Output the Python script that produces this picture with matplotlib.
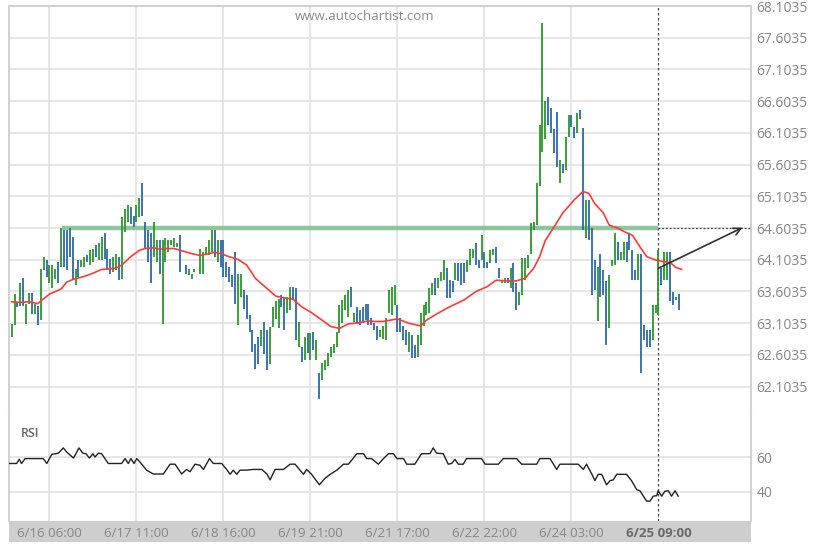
import matplotlib

matplotlib.use("Agg")

import matplotlib.pyplot as plt
import numpy as np
from matplotlib.patches import Rectangle

plt.rcParams["font.family"] = ["Open Sans", "DejaVu Sans"]

# hourly bars, index 0 = first bar on the left
BAR_DIR = (
    "uududuudud" "uuduuududd" "dduduuduud" "uuddduuduu" "udduuddddu"
    "uduuuuuud-" "duuu-uuuuu" "dudddddduu" "dddddduddu" "uuudduuddu"
    "dudududuuu" "uuuuuuudud" "ddddddduuu" "uuuddddudd" "uuuuuuduuu"
    "ddduddduuu" "ddudduuddu" "ududduuuuu" "uuuuuddddu" "duudduddud"
    "dduddduuud" "uudddduddd" "duuuduuddu" "d"
)
BAR_HIGH = [
    63.09, 63.57, 63.44, 63.73, 63.81, 63.41, 63.58, 63.58, 63.41, 63.38,
    63.96, 64.15, 64.10, 64.02, 64.02, 63.96, 64.07, 64.60, 64.57, 64.57,
    64.60, 64.46, 63.96, 64.10, 64.10, 64.15, 64.17, 64.25, 64.28, 64.33,
    64.36, 64.46, 64.52, 64.28, 64.12, 64.15, 64.20, 64.15, 64.78, 64.91,
    64.96, 64.94, 64.80, 64.96, 65.07, 65.32, 64.70, 64.57, 64.52, 64.70,
    64.41, 64.41, 64.41, 64.44, 64.41, 64.41, 64.44, 64.36, 64.49, None,
    64.02, 63.96, 63.88, 63.96, None, 64.28, 64.23, 64.31, 64.41, 64.57,
    64.57, 64.41, 64.42, 64.41, 64.07, 63.99, 63.86, 64.23, 63.88, 63.88,
    63.62, 63.54, 63.23, 62.99, 62.78, 62.88, 62.99, 63.12, 62.99, 63.04,
    63.36, 63.46, 63.48, 63.55, 63.52, 63.52, 63.68, 63.68, 63.65, 63.12,
    62.73, 62.89, 62.94, 62.94, 62.97, 62.84, 62.31, 62.47, 62.52, 62.63,
    62.73, 62.78, 62.97, 63.39, 63.47, 63.55, 63.62, 63.68, 63.26, 63.35,
    63.31, 63.36, 63.41, 63.41, 63.18, 63.10, 63.05, 62.99, 63.05, 63.18,
    63.63, 63.68, 63.70, 63.39, 63.18, 63.05, 62.99, 62.97, 62.92, 62.76,
    62.92, 63.26, 63.39, 63.44, 63.65, 63.73, 63.81, 63.81, 63.91, 64.10,
    63.97, 63.78, 63.76, 64.05, 64.05, 64.05, 64.05, 64.10, 64.28, 64.28,
    64.36, 64.10, 64.49, 64.23, 64.07, 64.26, 64.28, 64.31, 63.97, 63.78,
    63.81, 63.81, 63.97, 64.05, 63.73, 63.60, 64.13, 64.13, 64.18, 64.68,
    64.70, 65.31, 66.23, 67.83, 66.60, 66.67, 66.49, 66.17, 66.44, 65.68,
    65.62, 66.04, 66.38, 66.38, 66.20, 66.41, 66.46, 66.18, 65.04, 65.04,
    64.60, 64.10, 63.99, 64.20, 63.94, 63.76, 63.86, 64.10, 64.52, 64.39,
    64.23, 64.38, 64.39, 64.52, 64.26, 63.94, 64.20, 64.20, 63.07, 62.99,
    62.99, 63.39, 63.39, 64.25, 63.97, 64.23, 64.23, 64.23, 63.60, 63.52,
    63.57,
]
BAR_LOW = [
    62.88, 63.07, 63.36, 63.38, 63.38, 63.09, 63.41, 63.25, 63.25, 63.07,
    63.15, 63.94, 63.83, 63.73, 63.65, 63.80, 63.73, 63.99, 63.99, 63.94,
    64.15, 63.78, 63.70, 63.83, 63.99, 63.99, 64.07, 64.02, 64.07, 64.15,
    64.10, 64.10, 64.12, 63.94, 63.88, 63.91, 63.94, 63.78, 63.80, 64.54,
    64.70, 64.67, 64.62, 64.70, 64.78, 64.80, 64.28, 64.07, 63.73, 64.15,
    64.07, 63.88, 63.09, 64.07, 64.23, 64.33, 64.30, 64.30, 63.91, None,
    63.88, 63.86, 63.80, 63.91, None, 63.88, 63.88, 64.17, 64.17, 64.23,
    64.15, 64.07, 63.99, 63.83, 63.83, 63.75, 63.67, 63.41, 63.07, 63.52,
    63.33, 63.17, 62.96, 62.65, 62.38, 62.46, 62.75, 62.62, 62.36, 62.46,
    63.04, 63.17, 63.02, 63.36, 62.99, 63.26, 63.31, 63.47, 62.84, 62.73,
    62.49, 62.52, 62.63, 62.52, 62.68, 62.52, 61.91, 62.21, 62.36, 62.42,
    62.57, 62.63, 62.73, 62.94, 63.10, 63.31, 63.20, 63.36, 63.12, 63.10,
    63.07, 63.10, 63.15, 63.07, 63.07, 63.00, 62.84, 62.89, 62.86, 62.84,
    63.26, 63.23, 63.39, 62.97, 62.97, 62.84, 62.76, 62.65, 62.55, 62.55,
    62.57, 62.76, 63.05, 63.23, 63.26, 63.55, 63.55, 63.65, 63.76, 63.78,
    63.50, 63.50, 63.60, 63.78, 63.76, 63.70, 63.73, 63.91, 64.02, 64.13,
    64.02, 63.97, 64.10, 63.97, 63.97, 64.05, 64.18, 64.05, 63.81, 63.73,
    63.73, 63.73, 63.65, 63.60, 63.31, 63.39, 63.55, 63.78, 63.97, 64.20,
    64.57, 64.65, 65.26, 65.81, 66.00, 66.23, 66.10, 65.78, 65.57, 65.31,
    65.47, 65.52, 66.04, 66.20, 66.02, 66.10, 66.33, 64.57, 64.44, 64.41,
    63.55, 63.62, 63.13, 63.52, 63.55, 62.76, 63.02, 64.00, 64.02, 64.10,
    64.10, 64.10, 64.07, 64.26, 63.78, 63.78, 63.78, 62.31, 62.84, 62.73,
    62.73, 62.84, 63.26, 63.23, 63.70, 63.78, 63.78, 63.45, 63.39, 63.47,
    63.31,
]

# red moving average, read at a subset of bars
MA_IDX = [
    0, 3, 6, 9, 10, 13, 17, 19, 21, 25, 28, 31, 34, 36, 38, 41, 44, 46, 49, 51,
    53, 56, 59, 62, 65, 67, 70, 72, 75, 78, 81, 84, 88, 91, 93, 97, 100, 103,
    107, 110, 113, 116, 120, 123, 125, 128, 133, 137, 141, 143, 147, 151, 156,
    160, 164, 167, 171, 174, 177, 180, 182, 184, 187, 190, 194, 197, 199, 201,
    204, 206, 209, 211, 214, 217, 219, 222, 225, 227, 229, 231,
]
MA_VAL = [
    63.44, 63.43, 63.44, 63.41, 63.45, 63.56, 63.64, 63.75, 63.79, 63.84,
    63.89, 63.95, 63.96, 63.97, 64.02, 64.15, 64.25, 64.28, 64.29, 64.27,
    64.28, 64.28, 64.24, 64.20, 64.17, 64.19, 64.22, 64.20, 64.15, 64.11,
    64.02, 63.81, 63.65, 63.53, 63.51, 63.48, 63.36, 63.28, 63.15, 63.05,
    63.02, 63.09, 63.11, 63.14, 63.13, 63.13, 63.17, 63.10, 63.06, 63.15,
    63.26, 63.36, 63.47, 63.60, 63.68, 63.78, 63.77, 63.77, 63.81, 63.97,
    64.15, 64.41, 64.62, 64.84, 65.05, 65.18, 65.15, 64.99, 64.84, 64.65,
    64.60, 64.55, 64.49, 64.28, 64.15, 64.10, 64.07, 64.06, 63.98, 63.95,
]

RSI_IDX = [
    -0.8, 1.7, 2.6, 3.4, 4.6, 10.9, 12.1, 13.8, 16.1, 17.8, 19.0, 21.3, 23.2,
    24.5, 25.6, 26.8, 28.0, 28.7, 29.9, 31.0, 33.3, 37.9, 39.1, 40.2, 41.1,
    42.2, 43.1, 44.2, 46.5, 48.8, 52.3, 54.6, 56.3, 58.6, 60.3, 61.5, 63.2,
    64.9, 66.1, 68.2, 69.5, 72.4, 74.1, 75.3, 76.4, 77.6, 78.7, 81.0, 83.3,
    86.2, 88.0, 89.1, 90.8, 93.7, 96.0, 97.7, 99.4, 100.6, 101.7, 103.4,
    106.1, 108.0, 109.8, 112.1, 114.4, 116.1, 117.8, 119.0, 121.3, 122.4,
    124.1, 126.4, 128.2, 129.9, 131.6, 132.8, 135.1, 136.2, 139.0, 141.3,
    144.2, 145.3, 146.5, 148.8, 150.5, 151.7, 152.8, 154.0, 155.7, 156.8,
    162.0, 163.2, 167.8, 169.5, 174.1, 175.8, 181.0, 182.1, 185.6, 187.9,
    189.0, 195.3, 197.1, 198.2, 200.0, 201.1, 202.2, 203.4, 205.1, 206.3,
    207.4, 208.6, 212.0, 213.7, 215.5, 216.6, 218.9, 220.1, 221.2, 222.4,
    222.9, 224.1, 225.2, 226.4, 227.5, 228.7, 229.8,
]
RSI_VAL = [
    56.3, 56.3, 58.7, 56.3, 59.1, 59.1, 56.3, 61.5, 62.2, 65.2, 62.8, 59.4,
    65.2, 62.2, 61.9, 59.4, 61.9, 60.0, 62.2, 61.9, 56.3, 56.3, 59.1, 56.3,
    59.1, 56.3, 59.1, 57.2, 52.5, 50.3, 50.3, 55.9, 55.9, 50.3, 52.9, 51.6,
    55.9, 55.3, 52.9, 59.1, 56.3, 56.3, 52.9, 50.1, 52.5, 50.1, 52.5, 52.5,
    52.9, 52.9, 50.3, 46.9, 52.9, 52.9, 55.9, 55.9, 52.5, 50.1, 52.9, 50.1,
    44.1, 47.8, 50.1, 52.5, 55.9, 55.9, 59.4, 61.9, 61.9, 59.1, 59.1, 55.9,
    59.1, 61.9, 61.9, 59.1, 59.1, 55.9, 55.9, 61.9, 61.9, 65.2, 62.2, 61.9,
    55.9, 56.3, 58.7, 55.9, 55.9, 59.1, 59.1, 55.9, 55.9, 59.1, 59.1, 55.9,
    55.9, 59.1, 59.1, 52.9, 55.9, 55.9, 52.9, 55.9, 50.3, 46.5, 50.1, 50.1,
    44.1, 46.5, 46.9, 50.1, 50.1, 46.5, 41.3, 40.7, 34.8, 34.8, 37.6, 37.9,
    40.7, 37.6, 40.4, 40.7, 37.6, 40.7, 37.6,
]

PRICE_TICKS = [62.1035, 62.6035, 63.1035, 63.6035, 64.1035, 64.6035,
               65.1035, 65.6035, 66.1035, 66.6035, 67.1035, 67.6035, 68.1035]
RSI_TICKS = [40, 60]
TIME_IDX = [13, 43, 73, 103, 133, 163, 193, 223]
TIME_LABELS = ["6/16 06:00", "6/17 11:00", "6/18 16:00", "6/19 21:00",
               "6/21 17:00", "6/22 22:00", "6/24 03:00", "6/25 09:00"]

LEVEL_PRICE = 64.6035
LEVEL_START = 17.5
NOW_IDX = 223
ARROW_FROM = (223, 63.97)
ARROW_TO = (252, 64.61)

UP_COLOR = "#2b962b"
DOWN_COLOR = "#2c6aa5"
GRID_COLOR = "#e4e4e4"
BORDER_COLOR = "#d2d2d2"
LABEL_COLOR = "#868686"

FIG_W, FIG_H = 822, 548


def frac_x(px: float) -> float:
    return px / FIG_W


def frac_y(py: float) -> float:
    return 1 - py / FIG_H


def style_axis(ax, show_top: bool) -> None:
    for spine in ax.spines.values():
        spine.set_color(BORDER_COLOR)
        spine.set_linewidth(1.5)
    ax.spines["bottom"].set_visible(False)
    ax.spines["top"].set_visible(show_top)
    ax.set_xlim(-0.93, 254.9)
    ax.tick_params(axis="y", length=0, pad=4, labelcolor=LABEL_COLOR, labelsize=10)
    ax.yaxis.tick_right()
    ax.grid(axis="y", color=GRID_COLOR, linewidth=1.3, zorder=0)
    ax.set_axisbelow(True)
    for xi in TIME_IDX[:-1]:
        ax.axvline(xi, color=GRID_COLOR, linewidth=1.3, zorder=0)
    ax.axvline(NOW_IDX, color="#4a4a4a", linewidth=0.9, linestyle=(0, (2, 2)), zorder=1)


def draw_price(ax) -> None:
    high = np.array(BAR_HIGH, dtype=float)
    low = np.array(BAR_LOW, dtype=float)
    x = np.arange(len(high))
    up = np.array([c == "u" for c in BAR_DIR])
    down = np.array([c == "d" for c in BAR_DIR])

    ax.plot([LEVEL_START, NOW_IDX], [LEVEL_PRICE, LEVEL_PRICE], color="#82c294",
            linewidth=3.2, alpha=0.9, solid_capstyle="butt", zorder=2)
    ax.vlines(x[up], low[up], high[up], color=UP_COLOR, linewidth=1.3, zorder=3)
    ax.vlines(x[down], low[down], high[down], color=DOWN_COLOR, linewidth=1.3, zorder=3)
    ax.plot(MA_IDX, MA_VAL, color="#f53d3d", linewidth=1.2, zorder=4)

    ax.plot([NOW_IDX, 254.9], [LEVEL_PRICE, LEVEL_PRICE], color="#444444",
            linewidth=0.9, linestyle=(0, (1.5, 1.5)), zorder=4)
    ax.annotate("", xy=ARROW_TO, xytext=ARROW_FROM,
                arrowprops=dict(arrowstyle="->", color="#333333", lw=1.2, mutation_scale=13,
                                shrinkA=0, shrinkB=0), zorder=5)

    ax.set_ylim(61.733, 68.105)
    ax.set_yticks(PRICE_TICKS)
    ax.set_yticklabels([f"{t:.4f}" for t in PRICE_TICKS])
    ax.set_xticks([])


def draw_rsi(ax) -> None:
    ax.plot(RSI_IDX, RSI_VAL, color="#222222", linewidth=1.0, zorder=3)
    ax.set_ylim(23.4, 86.9)
    ax.set_yticks(RSI_TICKS)
    ax.set_yticklabels([str(t) for t in RSI_TICKS])
    ax.set_xticks(TIME_IDX)
    ax.set_xticklabels(TIME_LABELS)
    ax.tick_params(axis="x", length=0, pad=4, labelcolor=LABEL_COLOR, labelsize=9.5)
    last = ax.get_xticklabels()[-1]
    last.set_fontweight("bold")
    last.set_color("#6a6a6a")
    ax.text(0.016, 0.79, "RSI", transform=ax.transAxes, color="#666666",
            fontsize=9, fontweight="semibold", va="center", ha="left")


def main() -> None:
    fig = plt.figure(figsize=(FIG_W / 100, FIG_H / 100), dpi=100)
    left, right = 9, 751
    ax_price = fig.add_axes([frac_x(left), frac_y(410), frac_x(right - left), (410 - 6) / FIG_H])
    ax_rsi = fig.add_axes([frac_x(left), frac_y(521), frac_x(right - left), (521 - 410) / FIG_H])

    style_axis(ax_price, show_top=True)
    style_axis(ax_rsi, show_top=False)
    draw_price(ax_price)
    draw_rsi(ax_rsi)

    band = Rectangle((frac_x(left), frac_y(542)), frac_x(right - left), 21 / FIG_H,
                     transform=fig.transFigure, facecolor="#cecece", edgecolor="none", zorder=-1)
    fig.add_artist(band)

    fig.text(frac_x(365), frac_y(16), "www.autochartist.com", color="#8a8a8a",
             fontsize=9.5, ha="center", va="center")

    fig.savefig("out.png", dpi=100)
    plt.close(fig)


if __name__ == "__main__":
    main()
